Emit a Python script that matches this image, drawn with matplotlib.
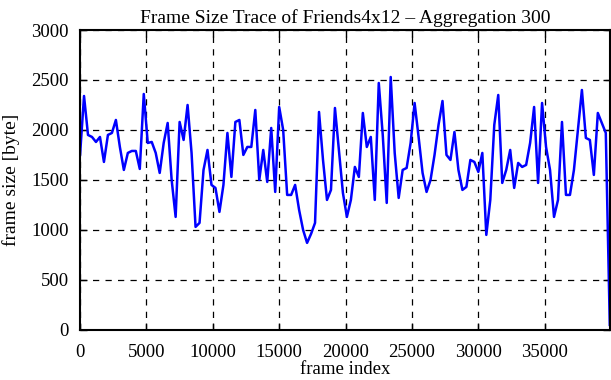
import numpy as np
import matplotlib
matplotlib.use("Agg")
import matplotlib.pyplot as plt

# aggregated frame sizes (bytes), one value per 300 frames
sizes = [1750, 2340, 1950, 1930, 1880, 1930, 1680, 1950, 1970, 2100,
         1830, 1600, 1770, 1790, 1790, 1610, 2360, 1870, 1880, 1770,
         1570, 1870, 2070, 1500, 1130, 2080, 1900, 2250, 1770, 1030,
         1070, 1600, 1800, 1450, 1420, 1180, 1450, 1970, 1530, 2080,
         2100, 1750, 1830, 1830, 2200, 1500, 1800, 1480, 2020, 1380,
         2230, 2000, 1350, 1350, 1450, 1200, 1000, 870, 960, 1070,
         2180, 1700, 1300, 1400, 2220, 1800, 1370, 1130, 1300, 1630,
         1530, 2170, 1830, 1930, 1300, 2470, 1950, 1270, 2530, 1770,
         1320, 1600, 1620, 1870, 2270, 1930, 1570, 1380, 1500, 1750,
         2050, 2290, 1750, 1700, 1980, 1600, 1400, 1430, 1700, 1680,
         1580, 1770, 950, 1300, 2050, 2350, 1470, 1600, 1800, 1420,
         1670, 1630, 1650, 1870, 2230, 1470, 2270, 1830, 1600, 1130,
         1300, 2080, 1350, 1350, 1600, 2000, 2400, 1920, 1900, 1550,
         2170, 2070, 1970, 50]
agg = 300
frames = np.arange(len(sizes)) * agg

xticks = [0, 5000, 10000, 15000, 20000, 25000, 30000, 35000]
yticks = [0, 500, 1000, 1500, 2000, 2500, 3000]

plt.rcParams['font.family'] = ['Liberation Serif', 'DejaVu Serif']

fig = plt.figure(figsize=(6.11, 3.8), dpi=100)
ax = fig.add_axes([0.131, 0.132, 0.867, 0.789])

ax.plot(frames, sizes, color='#0000ff', linewidth=1.8)

ax.set_xlim(0, frames[-1])
ax.set_ylim(0, 3000)
ax.set_xticks(xticks)
ax.set_yticks(yticks)
ax.grid(True, color='black', linestyle=(0, (5, 5)), linewidth=0.9)
ax.tick_params(direction='in', length=5, width=1, top=True, right=True,
               labelsize=13.5)
ax.tick_params(axis='y', pad=8)
ax.tick_params(axis='x', pad=10)
for s in ax.spines.values():
    s.set_linewidth(1.5)

ax.set_title('Frame Size Trace of Friends4x12 – Aggregation 300', fontsize=14, pad=5)
ax.set_xlabel('frame index', fontsize=13.5, labelpad=0)
ax.set_ylabel('frame size [byte]', fontsize=14, labelpad=8)

fig.savefig('out.png', dpi=100)
